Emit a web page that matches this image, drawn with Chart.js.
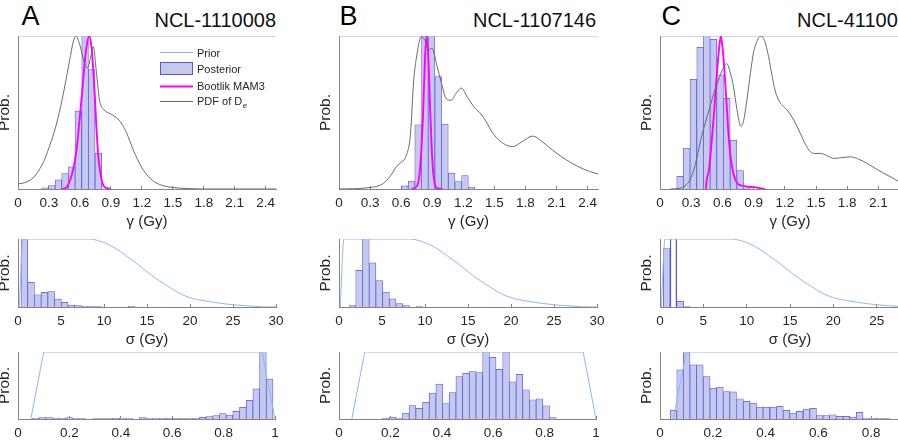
<!DOCTYPE html>
<html>
<head>
<meta charset="utf-8">
<title>Posterior distributions</title>
<script src="https://cdn.jsdelivr.net/npm/chart.js@4.4.1/dist/chart.umd.min.js"></script>
<style>
  html, body { margin: 0; padding: 0; background: #fff; }
  body { position: relative; width: 898px; height: 446px; overflow: hidden; }
  canvas { position: absolute; }
  .letter { position: absolute; font: 27px 'Liberation Sans', Arial, sans-serif; line-height: 1; color: #000; }
  .title { position: absolute; font: 20px 'Liberation Sans', Arial, sans-serif; line-height: 1; color: #111; white-space: nowrap; }
</style>
</head>
<body>
<div class="letter" style="left:21.5px;top:3px">A</div>
<div class="title" style="left:76px;top:10px;width:200px;text-align:right">NCL-1110008</div>
<div class="letter" style="left:339.5px;top:3px">B</div>
<div class="title" style="left:396px;top:10px;width:200px;text-align:right">NCL-1107146</div>
<div class="letter" style="left:661.5px;top:3px">C</div>
<div class="title" style="left:797px;top:10px">NCL-41100</div>

<script>
// ---- tick labels ----
const gammaTicks = [0, 0.3, 0.6, 0.9, 1.2, 1.5, 1.8, 2.1, 2.4];
const sigmaTicks = [0, 5, 10, 15, 20, 25, 30];
const pTicks = [0, 0.2, 0.4, 0.6, 0.8, 1];

const legendLabels = ['Prior', 'Posterior', 'Bootlik MAM3', 'PDF of D'];

// ---- priors (same in every column) ----
const priorGammaX = [0, 2.5];
const priorGammaY = [1, 1];
const priorSigmaX = [0.15, 0.58, 8.2, 9.5, 10.5, 11.5, 12.5, 13.5, 14.5, 15.5, 16.5, 17.5, 18.5, 19.5, 20.5, 21.5, 22.5, 23.5, 24.5, 25.5, 26.5, 27.5, 28.3, 30];
const priorSigmaY = [0, 1, 1, 0.97, 0.92, 0.85, 0.76, 0.67, 0.57, 0.47, 0.38, 0.3, 0.22, 0.16, 0.12, 0.095, 0.075, 0.055, 0.04, 0.028, 0.018, 0.01, 0.003, 0];
const priorPX = [0.05, 0.1, 0.95, 1.0];
const priorPY = [0, 1, 1, 0];

// ---- A: NCL-1110008 ----
const aGammaBins = [0.262, 0.327, 0.392, 0.456, 0.521, 0.585, 0.650, 0.714, 0.779];
const aGammaPost = [0.007, 0.022, 0.06, 0.1, 0.145, 0.51, 1.5, 0.78, 0.235];
const aMamX = [0.42, 0.47, 0.52, 0.55, 0.57, 0.6, 0.62, 0.64, 0.66, 0.688, 0.71, 0.725, 0.745, 0.76, 0.78, 0.795, 0.81, 0.83, 0.86, 0.9];
const aMamY = [0, 0.01, 0.09, 0.18, 0.27, 0.48, 0.62, 0.78, 0.91, 1.0, 0.94, 0.82, 0.6, 0.4, 0.2, 0.12, 0.06, 0.02, 0.005, 0];
const aPdfX = [0, 0.08, 0.15, 0.2, 0.25, 0.3, 0.35, 0.4, 0.45, 0.5, 0.535, 0.56, 0.6, 0.64, 0.675, 0.7, 0.73, 0.76, 0.79, 0.83, 0.9, 0.98, 1.05, 1.12, 1.2, 1.28, 1.37, 1.5, 1.65, 1.8, 2.5];
const aPdfY = [0.033, 0.045, 0.075, 0.12, 0.18, 0.27, 0.37, 0.5, 0.66, 0.84, 0.96, 1.0, 0.94, 0.83, 0.79, 0.85, 0.93, 0.76, 0.58, 0.52, 0.49, 0.45, 0.37, 0.25, 0.14, 0.07, 0.03, 0.01, 0.003, 0, 0];
const aSigmaBins = [0.74, 1.52, 2.30, 3.08, 3.86, 4.64, 5.42, 6.20, 6.98, 7.76, 8.54, 9.32, 10.10, 10.88, 11.66, 12.44, 13.22];
const aSigmaPost = [1.5, 0.363, 0.18, 0.216, 0.225, 0.118, 0.07, 0.03, 0.02, 0.01, 0.008, 0.005, 0, 0, 0, 0, 0.01];
const aPBins = [0.069, 0.095, 0.121, 0.147, 0.173, 0.199, 0.225, 0.251, 0.277, 0.303, 0.329, 0.355, 0.381, 0.407, 0.433, 0.459, 0.485, 0.511, 0.537, 0.563, 0.589, 0.615, 0.641, 0.667, 0.693, 0.719, 0.745, 0.771, 0.797, 0.823, 0.849, 0.875, 0.901, 0.927, 0.953, 0.979];
const aPPost = [0.015, 0.02, 0.02, 0.012, 0.01, 0.02, 0.008, 0.005, 0, 0.008, 0.008, 0.005, 0.01, 0.015, 0.005, 0, 0.02, 0.005, 0.008, 0.01, 0.012, 0.01, 0.01, 0.008, 0.01, 0.025, 0.035, 0.05, 0.08, 0.06, 0.114, 0.173, 0.277, 0.45, 1.4, 0.594];

// ---- B: NCL-1107146 ----
const bGammaBins = [0.635, 0.700, 0.764, 0.829, 0.893, 0.958, 1.022, 1.087, 1.151, 1.216, 1.280];
const bGammaPost = [0.02, 0.052, 0.42, 1.0, 1.5, 0.735, 0.425, 0.104, 0.048, 0.087, 0.013];
const bMamX = [0.7, 0.74, 0.77, 0.79, 0.81, 0.83, 0.845, 0.86, 0.88, 0.9, 0.92, 0.95, 1.0];
const bMamY = [0, 0.01, 0.06, 0.2, 0.47, 0.85, 1.0, 0.9, 0.52, 0.2, 0.05, 0.005, 0];
const bPdfX = [0, 0.26, 0.43, 0.49, 0.555, 0.59, 0.65, 0.69, 0.72, 0.75, 0.795, 0.83, 0.86, 0.9, 0.94, 0.99, 1.035, 1.083, 1.13, 1.18, 1.24, 1.31, 1.37, 1.42, 1.48, 1.56, 1.676, 1.77, 1.868, 1.96, 2.06, 2.15, 2.25, 2.36, 2.48, 2.5];
const bPdfY = [0, 0.007, 0.037, 0.08, 0.146, 0.17, 0.22, 0.36, 0.7, 0.87, 0.995, 0.97, 0.91, 0.92, 0.82, 0.69, 0.59, 0.58, 0.625, 0.66, 0.6, 0.53, 0.49, 0.44, 0.37, 0.31, 0.277, 0.31, 0.346, 0.31, 0.255, 0.21, 0.168, 0.13, 0.102, 0.098];
const bSigmaBins = [1.56, 2.34, 3.12, 3.90, 4.68, 5.46, 6.24, 7.02, 7.80, 8.58, 9.36];
const bSigmaPost = [0.02, 0.54, 1.5, 0.65, 0.39, 0.22, 0.12, 0.05, 0.02, 0, 0.005];
const bPBins = [0.182, 0.208, 0.234, 0.260, 0.286, 0.312, 0.338, 0.364, 0.390, 0.416, 0.442, 0.468, 0.494, 0.520, 0.546, 0.572, 0.598, 0.624, 0.650, 0.676, 0.702, 0.728, 0.754, 0.780, 0.806, 0.832];
const bPPost = [0.01, 0.03, 0.015, 0.09, 0.2, 0.16, 0.25, 0.386, 0.52, 0.23, 0.396, 0.634, 0.683, 0.708, 0.693, 1.02, 0.92, 0.743, 0.99, 0.554, 0.668, 0.436, 0.287, 0.302, 0.198, 0.02];

// ---- C: NCL-41100.. ----
const cGammaBins = [0.193, 0.257, 0.321, 0.386, 0.450, 0.514, 0.578, 0.642, 0.707, 0.771, 0.835];
const cGammaPost = [0.083, 0.267, 0.717, 0.926, 1.3, 0.978, 0.746, 0.593, 0.32, 0.12, 0.006];
const cMamX = [0.443, 0.445, 0.47, 0.498, 0.52, 0.54, 0.565, 0.585, 0.6, 0.617, 0.64, 0.658, 0.68, 0.706, 0.74, 0.771, 0.85, 0.9, 0.96, 1.01];
const cMamY = [0, 0.03, 0.12, 0.32, 0.5, 0.69, 0.9, 1.0, 0.93, 0.8, 0.56, 0.365, 0.2, 0.1, 0.04, 0.025, 0.015, 0.012, 0.006, 0];
const cPdfX = [0.1, 0.193, 0.24, 0.289, 0.34, 0.385, 0.43, 0.482, 0.52, 0.562, 0.6, 0.642, 0.675, 0.706, 0.74, 0.777, 0.805, 0.835, 0.87, 0.899, 0.935, 0.97, 1.005, 1.044, 1.075, 1.108, 1.15, 1.188, 1.23, 1.269, 1.31, 1.349, 1.4, 1.445, 1.49, 1.541, 1.6, 1.67, 1.75, 1.83, 1.91, 1.99, 2.07, 2.15, 2.23, 2.3, 2.4, 2.5];
const cPdfY = [0, 0.005, 0.02, 0.06, 0.16, 0.3, 0.42, 0.54, 0.63, 0.71, 0.78, 0.82, 0.76, 0.67, 0.52, 0.41, 0.45, 0.58, 0.76, 0.89, 0.97, 1.0, 0.97, 0.865, 0.75, 0.64, 0.57, 0.54, 0.51, 0.47, 0.42, 0.364, 0.29, 0.244, 0.232, 0.233, 0.22, 0.2, 0.205, 0.21, 0.195, 0.168, 0.135, 0.103, 0.075, 0.048, 0.025, 0.012];
const cSigmaBins = [0.77, 1.55, 2.33, 3.11];
const cSigmaPost = [0.86, 1.5, 0.085, 0.005];
const cPBins = [0.051, 0.076, 0.101, 0.126, 0.151, 0.177, 0.202, 0.227, 0.252, 0.277, 0.303, 0.328, 0.353, 0.378, 0.403, 0.429, 0.454, 0.479, 0.504, 0.529, 0.555, 0.580, 0.605, 0.630, 0.655, 0.681, 0.706, 0.731, 0.756, 0.781, 0.807, 0.832, 0.857];
const cPPost = [0.129, 0.733, 1.3, 0.807, 0.807, 0.634, 0.46, 0.475, 0.41, 0.406, 0.302, 0.262, 0.238, 0.178, 0.178, 0.178, 0.188, 0.129, 0.089, 0.114, 0.149, 0.158, 0.05, 0.05, 0.064, 0.04, 0.04, 0.03, 0.1, 0.015, 0.015, 0.01, 0.005];

// ---- styles ----
const FONT = "'Liberation Sans', Arial, Helvetica, sans-serif";
const TEXT = '#262626';
const AXIS = '#858585';
const PRIOR = '#8fb9e8';
const BAR_FILL = '#c6c9ee';
const BAR_EDGE = '#5757e0';
const MAM = '#ff00ff';
const PDF = '#6a6a6a';
const Y_AXIS_W = 19, PAD_T = 2, PAD_R = 14;

const pts = (xs, ys) => xs.map((x, i) => ({ x: x, y: ys[i] }));

// legend drawn inside panel A (top row)
const legendPlugin = {
    id: 'insideLegend',
    afterDatasetsDraw(chart) {
        const ctx = chart.ctx;
        const a = chart.chartArea;
        const x0 = a.left + 142, x1 = a.left + 175, tx = a.left + 179;
        ctx.save();
        ctx.font = '11px ' + FONT;
        ctx.fillStyle = TEXT;
        ctx.textBaseline = 'middle';

        ctx.strokeStyle = PRIOR; ctx.lineWidth = 1;
        ctx.beginPath(); ctx.moveTo(x0, a.top + 16.5); ctx.lineTo(x1, a.top + 16.5); ctx.stroke();
        ctx.fillText(legendLabels[0], tx, a.top + 17.5);

        ctx.fillStyle = BAR_FILL; ctx.fillRect(x0, a.top + 26, x1 - x0, 13);
        ctx.strokeStyle = BAR_EDGE; ctx.strokeRect(x0 + 0.5, a.top + 26.5, x1 - x0 - 1, 12);
        ctx.fillStyle = TEXT;
        ctx.fillText(legendLabels[1], tx, a.top + 34);

        ctx.strokeStyle = MAM; ctx.lineWidth = 1.8;
        ctx.beginPath(); ctx.moveTo(x0, a.top + 50.5); ctx.lineTo(x1, a.top + 50.5); ctx.stroke();
        ctx.fillText(legendLabels[2], tx, a.top + 50.7);

        ctx.strokeStyle = PDF; ctx.lineWidth = 1;
        ctx.beginPath(); ctx.moveTo(x0, a.top + 65.5); ctx.lineTo(x1, a.top + 65.5); ctx.stroke();
        ctx.fillText(legendLabels[3], tx, a.top + 65.8);
        const w = ctx.measureText(legendLabels[3]).width;
        ctx.font = '8px ' + FONT;
        ctx.fillText('e', tx + w + 0.5, a.top + 69.5);
        ctx.restore();
    }
};

function drawPanel(p) {
    const [L, T, W, H] = p.box;
    const canvas = document.createElement('canvas');
    canvas.width = Y_AXIS_W + W + PAD_R;
    canvas.height = PAD_T + H + p.xAxisH;
    canvas.style.left = (L - Y_AXIS_W) + 'px';
    canvas.style.top = (T - PAD_T) + 'px';
    document.body.appendChild(canvas);

    const datasets = [{
        type: 'bar',
        data: pts(p.bins, p.post),
        backgroundColor: p.barFill || BAR_FILL,
        borderColor: BAR_EDGE,
        borderWidth: 0.75,
        barPercentage: 1,
        categoryPercentage: 1,
        order: 4
    }, {
        type: 'line',
        data: pts(p.priorX, p.priorY),
        borderColor: PRIOR,
        borderWidth: 1,
        pointRadius: 0,
        cubicInterpolationMode: p.smoothPrior ? 'monotone' : 'default',
        tension: 0,
        order: 3
    }];
    if (p.mamX) {
        datasets.push({
            type: 'line', data: pts(p.mamX, p.mamY),
            borderColor: MAM, borderWidth: 1.9, pointRadius: 0,
            cubicInterpolationMode: 'monotone', order: 2
        });
        datasets.push({
            type: 'line', data: pts(p.pdfX, p.pdfY),
            borderColor: PDF, borderWidth: 1, pointRadius: 0,
            cubicInterpolationMode: 'monotone', order: 1
        });
    }

    new Chart(canvas, {
        type: 'bar',
        data: { datasets: datasets },
        options: {
            responsive: false,
            animation: false,
            devicePixelRatio: 1,
            events: [],
            layout: { padding: { top: PAD_T, right: PAD_R, left: 0, bottom: 0 } },
            plugins: { legend: { display: false }, tooltip: { enabled: false } },
            scales: {
                x: {
                    type: 'linear',
                    min: 0,
                    max: p.xMax,
                    offset: false,
                    afterBuildTicks: s => { s.ticks = p.ticks.map(v => ({ value: v })); },
                    afterFit: s => { s.height = p.xAxisH; s.paddingLeft = 0; s.paddingRight = 0; },
                    grid: { display: true, offset: false, drawOnChartArea: false, drawTicks: true, tickLength: -3, color: AXIS, tickWidth: 1 },
                    border: { display: true, color: AXIS, width: 1 },
                    ticks: {
                        autoSkip: false, maxRotation: 0, padding: 10.75, color: TEXT,
                        font: { family: FONT, size: 13.5, lineHeight: 1 },
                        callback: v => String(v)
                    },
                    title: {
                        display: !!p.xTitle, text: p.xTitle || '', color: TEXT,
                        font: { family: FONT, size: 15, lineHeight: 1 },
                        padding: { top: 0, bottom: 4.5 }
                    }
                },
                y: {
                    min: 0,
                    max: 1,
                    afterFit: s => { s.width = Y_AXIS_W; s.paddingTop = 0; s.paddingBottom = 0; },
                    ticks: { display: false },
                    grid: { display: false },
                    border: { display: true, color: AXIS, width: 1 },
                    title: {
                        display: true, text: 'Prob.', color: TEXT,
                        font: { family: FONT, size: 15.5, lineHeight: '12px' },
                        padding: { top: 0, bottom: 0 }
                    }
                }
            }
        },
        plugins: p.legend ? [legendPlugin] : []
    });
}

const panels = [
    // top row: gamma
    { box: [18, 36, 258, 153], xAxisH: 45, xMax: 2.5, ticks: gammaTicks, xTitle: '\u03b3 (Gy)',
      bins: aGammaBins, post: aGammaPost, priorX: priorGammaX, priorY: priorGammaY,
      mamX: aMamX, mamY: aMamY, pdfX: aPdfX, pdfY: aPdfY, legend: true },
    { box: [339, 36, 259, 153], xAxisH: 45, xMax: 2.5, ticks: gammaTicks, xTitle: '\u03b3 (Gy)',
      bins: bGammaBins, post: bGammaPost, priorX: priorGammaX, priorY: priorGammaY,
      mamX: bMamX, mamY: bMamY, pdfX: bPdfX, pdfY: bPdfY },
    { box: [660, 36, 260, 153], xAxisH: 45, xMax: 2.5, ticks: gammaTicks, xTitle: '\u03b3 (Gy)',
      bins: cGammaBins, post: cGammaPost, priorX: priorGammaX, priorY: priorGammaY,
      mamX: cMamX, mamY: cMamY, pdfX: cPdfX, pdfY: cPdfY },
    // middle row: sigma
    { box: [18, 239, 258, 68], xAxisH: 45, xMax: 30, ticks: sigmaTicks, xTitle: '\u03c3 (Gy)',
      bins: aSigmaBins, post: aSigmaPost, priorX: priorSigmaX, priorY: priorSigmaY, smoothPrior: true },
    { box: [339, 239, 258, 68], xAxisH: 45, xMax: 30, ticks: sigmaTicks, xTitle: '\u03c3 (Gy)',
      bins: bSigmaBins, post: bSigmaPost, priorX: priorSigmaX, priorY: priorSigmaY, smoothPrior: true },
    { box: [660, 239, 260, 68], xAxisH: 45, xMax: 30, ticks: sigmaTicks, xTitle: '\u03c3 (Gy)',
      bins: cSigmaBins, post: cSigmaPost, priorX: priorSigmaX, priorY: priorSigmaY, smoothPrior: true,
      barFill: [BAR_FILL, 'rgba(255,255,255,0)', BAR_FILL, BAR_FILL] },
    // bottom row: proportion
    { box: [18, 352, 257, 67], xAxisH: 26, xMax: 1, ticks: pTicks,
      bins: aPBins, post: aPPost, priorX: priorPX, priorY: priorPY },
    { box: [339, 352, 257, 67], xAxisH: 26, xMax: 1, ticks: pTicks,
      bins: bPBins, post: bPPost, priorX: priorPX, priorY: priorPY },
    { box: [660, 352, 264, 67], xAxisH: 26, xMax: 1, ticks: pTicks,
      bins: cPBins, post: cPPost, priorX: priorPX, priorY: priorPY }
];

panels.forEach(drawPanel);
</script>
</body>
</html>
